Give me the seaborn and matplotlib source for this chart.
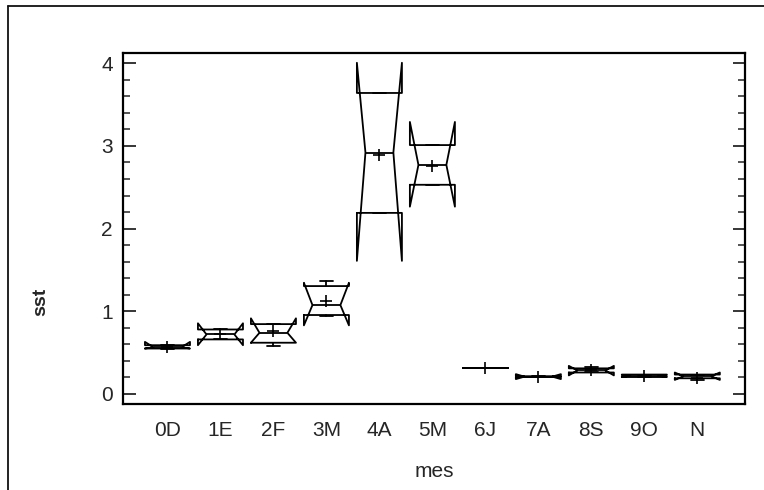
import matplotlib
matplotlib.use("Agg")
import matplotlib.pyplot as plt
import seaborn as sns
import numpy as np
import pandas as pd
from matplotlib.lines import Line2D
from matplotlib.ticker import MultipleLocator, FixedLocator

# ---- data ----
months = ["0D", "1E", "2F", "3M", "4A", "5M", "6J", "7A", "8S", "9O", "N"]
q1     = [0.550, 0.660, 0.620, 0.955, 2.190, 2.530, 0.310, 0.205, 0.260, 0.205, 0.190]
median = [0.565, 0.720, 0.740, 1.075, 2.920, 2.770, 0.310, 0.210, 0.285, 0.220, 0.215]
q3     = [0.590, 0.780, 0.845, 1.305, 3.640, 3.010, 0.310, 0.215, 0.310, 0.235, 0.235]
ci_lo  = [0.550, 0.590, 0.620, 0.830, 1.610, 2.265, 0.310, 0.180, 0.225, 0.210, 0.170]
ci_hi  = [0.630, 0.855, 0.915, 1.345, 4.005, 3.290, 0.310, 0.240, 0.340, 0.230, 0.260]
wh_lo  = [0.550, 0.660, 0.575, 0.945, 2.190, 2.530, 0.310, 0.205, 0.260, 0.205, 0.175]
wh_hi  = [0.590, 0.780, 0.845, 1.370, 3.640, 3.010, 0.310, 0.215, 0.325, 0.235, 0.235]
means  = [0.565, 0.720, 0.760, 1.130, 2.895, 2.755, 0.310, 0.210, 0.290, 0.220, 0.190]
yticks = [0, 1, 2, 3, 4]
xlabel = "mes"
ylabel = "sst"

sns.set_style("ticks")
plt.rcParams['font.family'] = ['Liberation Sans', 'DejaVu Sans']

W, H = 764, 490
fig = plt.figure(figsize=(W / 100, H / 100), dpi=100)
ax = fig.add_axes([122.7 / W, 1 - 404 / H, (745 - 122.7) / W, (404 - 52.7) / H])

stats = [dict(med=median[i], q1=q1[i], q3=q3[i], cilo=ci_lo[i], cihi=ci_hi[i],
              whislo=wh_lo[i], whishi=wh_hi[i], label=months[i])
         for i in range(len(months))]
positions = list(range(len(months)))
width = 0.85
lp = dict(color='black', linewidth=1.3)
res = ax.bxp(stats, positions=positions, widths=width, shownotches=True,
             showfliers=False, showmeans=False, capwidths=0.25,
             boxprops=lp, whiskerprops=lp, capprops=lp, medianprops=lp,
             manage_ticks=False)

# widen the notch waist a bit (reference notch ~0.62 of box width)
half = width * 0.31
for pos, b, m in zip(positions, res['boxes'], res['medians']):
    x = np.array(b.get_xdata(), float)
    for k in range(len(x)):
        if abs(abs(x[k] - pos) - width * 0.25) < 1e-9:
            x[k] = pos + np.sign(x[k] - pos) * half
    b.set_xdata(x)
    m.set_xdata([pos - half, pos + half])

df = pd.DataFrame({"pos": positions, "mean": means})
sns.scatterplot(data=df, x="pos", y="mean", marker="+", s=70, color="black",
                linewidth=1.2, ax=ax, legend=False, zorder=5)

ax.set_xlim(-0.845, 10.9)
ax.set_ylim(-0.121, 4.127)
ax.set_xticks(positions)
ax.set_xticklabels(months, fontsize=15)
ax.set_yticks(yticks)
ax.set_yticklabels([str(t) for t in yticks], fontsize=15)
ax.yaxis.set_minor_locator(MultipleLocator(0.2))
ax.tick_params(axis='y', which='major', direction='in', length=9, width=1.3,
               left=True, right=True, pad=7)
ax.tick_params(axis='y', which='minor', direction='in', length=5, width=1.1,
               left=True, right=True)
ax.tick_params(axis='x', which='both', length=0, pad=12)
for sp in ax.spines.values():
    sp.set_visible(True)
    sp.set_linewidth(1.6)
    sp.set_color('black')

ax.set_xlabel(xlabel, fontsize=15, labelpad=16)
ax.set_ylabel(ylabel, fontsize=14, fontweight='bold', rotation=90)
ax.yaxis.set_label_coords(-0.118, 0.29)

# outer frame of the figure (left and top edges)
fx, fy = 8 / W, 1 - 6 / H
fig.add_artist(Line2D([fx, fx], [0, fy], color='#111111', linewidth=1.3))
fig.add_artist(Line2D([fx, 1.0], [fy, fy], color='#111111', linewidth=1.3))

fig.savefig("out.png", dpi=100)
